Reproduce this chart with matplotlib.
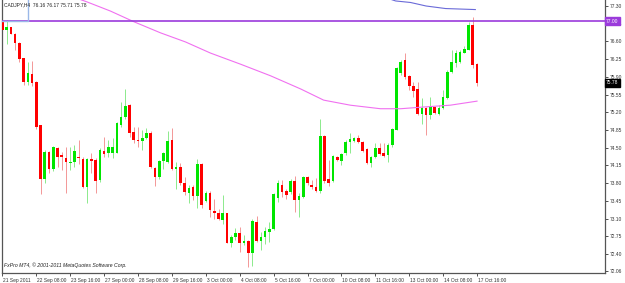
import matplotlib
matplotlib.use("Agg")
import matplotlib.pyplot as plt
import matplotlib.transforms as mtransforms

# CADJPY H4 candles (open, high, low, close)
opens = [77.00, 76.83, 76.88, 76.75, 76.57, 76.27, 75.80, 75.96, 75.80, 74.94,
         73.88, 74.42, 74.07, 74.50, 74.36, 74.30, 74.20, 74.22, 74.32, 74.28,
         73.73, 74.27, 74.26, 73.86, 74.44, 74.39, 74.40, 74.40, 74.95, 75.10,
         75.34, 74.81, 74.65, 74.64, 74.69, 74.80, 74.09, 73.93, 74.24, 74.22,
         74.65, 74.07, 74.12, 73.81, 73.61, 73.73, 73.55, 74.18, 73.45, 73.61,
         73.25, 73.20, 73.08, 73.20, 72.62, 72.73, 72.81, 72.62, 72.66, 72.42,
         73.04, 72.66, 72.73, 72.84, 72.89, 73.50, 73.76, 73.65, 73.63, 73.84,
         73.47, 73.53, 73.93, 73.76, 73.73, 73.65, 74.74, 73.88, 73.85, 74.32,
         74.24, 74.39, 74.62, 74.64, 74.70, 74.62, 74.47, 74.20, 74.31, 74.49,
         74.39, 74.36, 74.55, 74.85, 75.97, 76.23, 75.92, 75.71, 75.65, 75.17,
         75.29, 75.15, 75.30, 75.17, 75.28, 75.48, 76.00, 76.18, 76.20, 76.38,
         76.44, 76.92, 76.16]
highs = [77.02, 77.02, 76.89, 76.77, 76.59, 76.28, 76.20, 76.22, 75.82, 74.95,
         74.45, 74.44, 74.53, 74.52, 74.42, 74.52, 74.52, 74.55, 74.65, 74.32,
         74.29, 74.40, 74.30, 74.49, 74.72, 74.65, 74.69, 75.01, 75.41, 75.66,
         75.36, 74.90, 74.91, 74.85, 74.88, 74.82, 74.12, 74.26, 74.42, 74.82,
         74.88, 74.22, 74.20, 73.93, 73.76, 73.76, 74.27, 74.20, 73.65, 73.65,
         73.48, 73.28, 73.56, 73.21, 72.77, 72.91, 72.94, 72.77, 72.68, 73.10,
         73.14, 72.84, 72.94, 73.04, 73.60, 73.86, 73.86, 73.68, 73.89, 73.94,
         73.60, 73.94, 73.94, 73.86, 73.91, 75.06, 74.75, 74.26, 74.36, 74.34,
         74.40, 74.65, 74.80, 74.71, 74.75, 74.64, 74.49, 74.34, 74.59, 74.59,
         74.60, 74.59, 74.88, 76.10, 76.23, 76.37, 75.94, 75.80, 75.80, 75.48,
         75.30, 75.50, 75.31, 75.34, 75.64, 76.04, 76.43, 76.44, 76.43, 76.51,
         76.99, 77.08, 76.17]
lows = [76.79, 76.55, 76.74, 76.44, 76.20, 75.74, 75.74, 75.71, 74.86, 73.58,
        73.81, 73.99, 74.03, 74.12, 74.06, 73.60, 74.06, 74.12, 74.18, 73.70,
        73.41, 73.99, 73.60, 73.82, 74.32, 74.32, 74.29, 74.39, 74.91, 75.06,
        74.71, 74.60, 74.51, 74.45, 74.67, 74.09, 73.75, 73.88, 74.07, 74.20,
        74.06, 73.68, 73.76, 73.56, 73.40, 73.47, 73.30, 73.30, 73.43, 73.12,
        73.10, 73.07, 72.99, 72.61, 72.54, 72.68, 72.44, 72.58, 72.15, 72.17,
        72.64, 72.48, 72.60, 72.64, 72.87, 73.43, 73.53, 73.48, 73.58, 73.22,
        73.12, 73.50, 73.76, 73.68, 73.63, 73.60, 73.80, 73.74, 73.83, 74.24,
        74.16, 74.36, 74.40, 74.62, 74.59, 74.42, 74.18, 74.12, 74.29, 74.36,
        74.31, 74.22, 74.52, 74.84, 75.94, 75.85, 75.64, 75.51, 75.15, 74.97,
        74.75, 75.06, 75.16, 75.15, 75.26, 75.46, 75.98, 76.10, 76.18, 76.37,
        76.43, 76.07, 75.71]
closes = [76.83, 76.88, 76.75, 76.56, 76.25, 75.80, 75.97, 75.78, 74.90, 73.88,
          74.41, 74.07, 74.52, 74.32, 74.31, 74.22, 74.22, 74.43, 74.29, 73.73,
          74.27, 74.24, 73.85, 74.45, 74.38, 74.52, 74.52, 74.98, 75.11, 75.32,
          74.80, 74.65, 74.64, 74.69, 74.80, 74.11, 73.93, 74.24, 74.40, 74.64,
          74.07, 74.12, 73.80, 73.62, 73.71, 73.55, 74.18, 73.37, 73.61, 73.27,
          73.20, 73.09, 73.20, 72.62, 72.73, 72.81, 72.61, 72.66, 72.42, 73.05,
          72.66, 72.74, 72.85, 72.89, 73.58, 73.81, 73.63, 73.56, 73.84, 73.47,
          73.55, 73.93, 73.80, 73.72, 73.65, 74.74, 73.85, 73.80, 74.34, 74.26,
          74.37, 74.62, 74.67, 74.69, 74.61, 74.44, 74.20, 74.31, 74.49, 74.38,
          74.34, 74.55, 74.86, 76.07, 76.20, 75.90, 75.71, 75.63, 75.17, 75.28,
          75.15, 75.30, 75.18, 75.28, 75.50, 76.00, 76.20, 76.38, 76.40, 76.46,
          76.92, 76.13, 75.78]

# moving averages (bar index, price)
ma_slow_idx = [18, 20, 25.5, 31, 37.3, 43.2, 49.1, 56.2, 63.3, 70.4, 75.8, 82.1, 89.2, 94, 98.7, 105.7, 112]
ma_slow_val = [77.44, 77.38, 77.20, 76.99, 76.77, 76.59, 76.37, 76.15, 75.92, 75.66, 75.44, 75.34,
               75.27, 75.27, 75.30, 75.34, 75.42]
ma_fast_idx = [91, 92.8, 96.3, 100, 104.6, 111.6]
ma_fast_val = [77.45, 77.40, 77.37, 77.30, 77.25, 77.23]

level_line = 77.00
last_price = 75.78

y_ticks = [77.30, 76.95, 76.60, 76.25, 75.90, 75.55, 75.20, 74.85, 74.50, 74.15,
           73.80, 73.45, 73.10, 72.75, 72.40, 72.06]
x_tick_labels = ["21 Sep 2011", "22 Sep 08:00", "23 Sep 16:00", "27 Sep 00:00", "28 Sep 08:00",
                 "29 Sep 16:00", "3 Oct 00:00", "4 Oct 08:00", "5 Oct 16:00", "7 Oct 00:00",
                 "10 Oct 08:00", "11 Oct 16:00", "13 Oct 00:00", "14 Oct 08:00", "17 Oct 16:00"]

plt.rcParams['font.family'] = ['Liberation Sans', 'DejaVu Sans']
FS = 3.5

W, H = 625, 283
fig = plt.figure(figsize=(W / 100, H / 100), dpi=100)
fig.patch.set_facecolor('white')
ax = fig.add_axes([2 / W, 10 / H, 603 / W, 273 / H])
ax.set_facecolor('white')

up_body, dn_body = '#00e600', '#ff0000'
up_wick, dn_wick = '#84e884', '#f29090'

for i in range(len(opens)):
    o, h, l, c = opens[i], highs[i], lows[i], closes[i]
    up = c >= o
    ax.vlines(i, l, h, color=up_wick if up else dn_wick, lw=0.65, zorder=2)
    bottom = min(o, c)
    height = max(abs(c - o), 0.012)
    ax.bar(i, height, bottom=bottom, width=0.62, color=up_body if up else dn_body,
           linewidth=0, zorder=3)

ax.plot(ma_slow_idx, ma_slow_val, color='#f070f0', lw=0.8, zorder=4)
ax.plot(ma_fast_idx, ma_fast_val, color='#6a6ad8', lw=0.8, zorder=4)
ax.axhline(level_line, color='#9b3bdb', lw=1.2, zorder=5)

# little header box in the top-left corner
ax.plot([0, 6.0, 6.0], [level_line, level_line, 77.42], color='#9ab8e8', lw=1.0, zorder=6,
        clip_on=False)

ax.set_xlim(-0.1, 142.2)
ax.set_ylim(72.023, 77.419)

ax.spines['top'].set_visible(False)
for s in ('left', 'right', 'bottom'):
    ax.spines[s].set_color('#555555')
    ax.spines[s].set_linewidth(0.9)

ax.yaxis.tick_right()
ax.set_yticks(y_ticks)
ax.set_yticklabels([f"{v:.2f}" for v in y_ticks])
ax.tick_params(axis='y', length=2, width=0.6, pad=1.5, labelsize=FS, colors='#333333')

ax.set_xticks(range(0, 8 * len(x_tick_labels), 8))
ax.set_xticklabels(x_tick_labels, ha='left')
ax.tick_params(axis='x', length=2.5, width=0.6, pad=1.2, labelsize=FS, colors='#333333')
for lab in ax.get_xticklabels():
    lab.set_transform(lab.get_transform() + mtransforms.ScaledTranslation(1 / 100, 0, fig.dpi_scale_trans))

ytr = mtransforms.blended_transform_factory(ax.transAxes, ax.transData)
ax.text(1.002, level_line, f"{level_line:.2f}", transform=ytr, fontsize=FS, color='white',
        va='center', ha='left', zorder=10,
        bbox=dict(boxstyle='square,pad=0.3', fc='#9b3bdb', ec='#9b3bdb'))
ax.text(1.002, last_price, f"{last_price:.2f}", transform=ytr, fontsize=FS, color='white',
        va='center', ha='left', zorder=10,
        bbox=dict(boxstyle='square,pad=0.25', fc='black', ec='black'))

ax.text(0.004, 0.99, "CADJPY,H4  76.16 76.17 75.71 75.78", transform=ax.transAxes,
        fontsize=FS, color='#222222', va='top', ha='left', zorder=7)
ax.text(0.004, 0.02, "FxPro MT4, \u00a9 2001-2011 MetaQuotes Software Corp.", transform=ax.transAxes,
        fontsize=3.7, color='#222222', va='bottom', ha='left', style='italic', zorder=7)

fig.savefig("out.png", dpi=100, facecolor='white')
